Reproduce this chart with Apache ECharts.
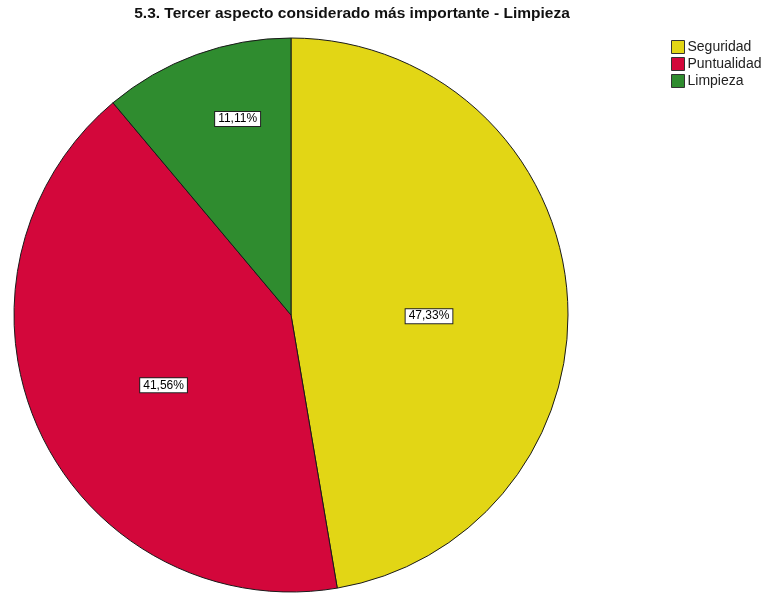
<!DOCTYPE html>
<html>
<head>
<meta charset="utf-8">
<script src="https://cdn.jsdelivr.net/npm/echarts@6/dist/echarts.min.js"></script>
<style>
  html, body { margin: 0; padding: 0; background: #ffffff; }
  #chart { width: 773px; height: 597px; }
</style>
</head>
<body>
<div id="chart"></div>
<script>
// Categories and their shares (%)
const categories = ['Seguridad', 'Puntualidad', 'Limpieza'];
const percentages = [47.33, 41.56, 11.11];
const sliceColors = ['#e2d615', '#d3073b', '#2f8c2f'];
// Nudge of each value label from its default inside spot
const labelOffsets = [[-3, 13], [1, 11], [-5, -63]];

const fmt = v => v.toFixed(2).replace('.', ',') + '%';

const chart = echarts.init(document.getElementById('chart'), null, { renderer: 'canvas' });

chart.setOption({
  animation: false,
  backgroundColor: '#ffffff',
  title: {
    text: '5.3. Tercer aspecto considerado más importante - Limpieza',
    left: 347,
    textAlign: 'center',
    top: 1,
    textStyle: {
      fontFamily: 'Liberation Sans, Arial, sans-serif',
      fontWeight: 'bold',
      fontSize: 15.5,
      color: '#111111'
    }
  },
  legend: {
    orient: 'vertical',
    left: 666,
    top: 34,
    itemWidth: 13,
    itemHeight: 13,
    itemGap: 1,
    icon: 'rect',
    selectedMode: false,
    data: categories,
    textStyle: {
      fontFamily: 'Liberation Sans, Arial, sans-serif',
      fontSize: 14,
      lineHeight: 16,
      color: '#222222',
      padding: [0, 0, 0, -2]
    },
    itemStyle: { borderColor: '#333333', borderWidth: 1 }
  },
  series: [{
    type: 'pie',
    center: [291, 315],
    radius: 277,
    startAngle: 90,
    clockwise: true,
    avoidLabelOverlap: false,
    labelLine: { show: false },
    emphasis: { disabled: true },
    itemStyle: { borderColor: '#1a1a1a', borderWidth: 1 },
    label: {
      show: true,
      position: 'inside',
      fontFamily: 'Liberation Sans, Arial, sans-serif',
      fontSize: 12,
      lineHeight: 12,
      color: '#000000',
      backgroundColor: '#ffffff',
      borderColor: '#222222',
      borderWidth: 1,
      padding: [1, 3, 1, 3],
      formatter: p => fmt(p.value)
    },
    data: categories.map((name, i) => ({
      name: name,
      value: percentages[i],
      itemStyle: { color: sliceColors[i] },
      label: { offset: labelOffsets[i] }
    }))
  }]
});
</script>
</body>
</html>
